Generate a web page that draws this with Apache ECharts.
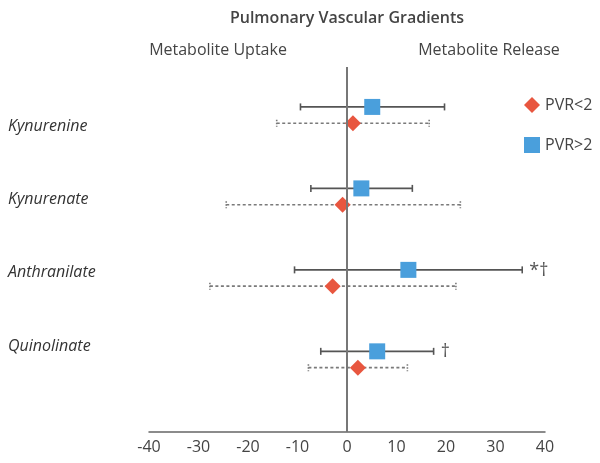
<!DOCTYPE html>
<html>
<head>
<meta charset="utf-8">
<script src="https://cdn.jsdelivr.net/npm/echarts@6/dist/echarts.min.js"></script>
<style>html,body{margin:0;padding:0;background:#fff}#c{width:600px;height:463px}</style>
</head>
<body>
<div id="c"></div>
<script>
const categories = ['Kynurenine', 'Kynurenate', 'Anthranilate', 'Quinolinate'];
const pvrHighMean = [5.1, 2.9, 12.4, 6.1];
const pvrHighLow = [-9.4, -7.3, -10.6, -5.3];
const pvrHighHigh = [19.7, 13.2, 35.4, 17.5];
const pvrLowMean = [1.2, -0.9, -2.9, 2.2];
const pvrLowLow = [-14.2, -24.4, -27.7, -7.8];
const pvrLowHigh = [16.6, 22.9, 22.0, 12.2];
const highNotes = ['', '', '*\u2020', '\u2020'];
const xMin = -40, xMax = 40, xStep = 10;

const FONT = '"Open Sans", sans-serif';
const HIGH_OFF = 0.49, LOW_OFF = 0.69;
const LABEL_START = 0.75, LABEL_STEP = 0.9;

const chart = echarts.init(document.getElementById('c'));

function errRender(dashed, notes) {
  return function (params, api) {
    const y = api.value(2);
    const lo = api.coord([api.value(0), y]);
    const hi = api.coord([api.value(1), y]);
    const cap = 3.5;
    const col = dashed ? '#7a7a7a' : '#555';
    const style = { stroke: col, lineWidth: 1.6, lineDash: dashed ? [3, 2.5] : null };
    const capStyle = { stroke: col, lineWidth: 1.6, lineDash: dashed ? [1.5, 1.5] : null };
    const children = [
      { type: 'line', shape: { x1: lo[0], y1: lo[1], x2: hi[0], y2: hi[1] }, style: style },
      { type: 'line', shape: { x1: lo[0], y1: lo[1] - cap, x2: lo[0], y2: lo[1] + cap }, style: capStyle },
      { type: 'line', shape: { x1: hi[0], y1: hi[1] - cap, x2: hi[0], y2: hi[1] + cap }, style: capStyle }
    ];
    const note = notes ? notes[params.dataIndex] : '';
    if (note) {
      children.push({
        type: 'text',
        style: { text: note, x: hi[0] + 7, y: hi[1] + 1, verticalAlign: 'middle', align: 'left',
                 fill: '#555', font: '18px ' + FONT }
      });
    }
    return { type: 'group', children: children };
  };
}

const highErr = categories.map((c, i) => [pvrHighLow[i], pvrHighHigh[i], i + HIGH_OFF]);
const lowErr = categories.map((c, i) => [pvrLowLow[i], pvrLowHigh[i], i + LOW_OFF]);
const highPts = categories.map((c, i) => [pvrHighMean[i], i + HIGH_OFF]);
const lowPts = categories.map((c, i) => [pvrLowMean[i], i + LOW_OFF]);

chart.setOption({
  animation: false,
  textStyle: { fontFamily: FONT },
  grid: { left: 149, right: 55, top: 67, bottom: 31 },
  xAxis: {
    type: 'value', min: xMin, max: xMax, interval: xStep, position: 'bottom',
    axisLine: { show: true, onZero: false, lineStyle: { color: '#666', width: 1.5 } },
    axisTick: { show: false },
    splitLine: { show: false },
    axisLabel: { fontSize: 16, color: '#444', margin: 7, fontFamily: FONT }
  },
  yAxis: {
    type: 'value', inverse: true, min: 0, max: 4.48, show: false
  },
  title: [
    { text: 'Pulmonary Vascular Gradients', left: 342, top: 5, textAlign: 'center',
      textStyle: { fontSize: 16, fontWeight: 600, color: '#444', fontFamily: FONT } },
    { text: 'Metabolite Uptake', left: 213, top: 37, textAlign: 'center',
      textStyle: { fontSize: 16, fontWeight: 'normal', color: '#444', fontFamily: FONT } },
    { text: 'Metabolite Release', left: 484, top: 37, textAlign: 'center',
      textStyle: { fontSize: 16, fontWeight: 'normal', color: '#444', fontFamily: FONT } }
  ],
  legend: {
    data: ['PVR<2', 'PVR>2'], orient: 'vertical', left: 519, top: 92,
    itemWidth: 16, itemHeight: 16, itemGap: 24,
    textStyle: { fontSize: 16, color: '#444', fontFamily: FONT }
  },
  series: [
    { type: 'custom', renderItem: errRender(true, null), data: lowErr, z: 1,
      encode: { x: [0, 1], y: 2 }, silent: true },
    { type: 'custom', renderItem: errRender(false, highNotes), data: highErr, z: 1,
      encode: { x: [0, 1], y: 2 }, silent: true },
    { name: 'PVR<2', type: 'scatter', symbol: 'diamond', symbolSize: 16, data: lowPts, z: 3,
      itemStyle: { color: '#e8563f', opacity: 1 },
      markLine: { silent: true, symbol: 'none', label: { show: false },
        lineStyle: { color: '#777', width: 2, type: 'solid' },
        data: [{ xAxis: 0 }] } },
    { name: 'PVR>2', type: 'scatter', symbol: 'rect', symbolSize: 16, data: highPts, z: 3,
      itemStyle: { color: '#4a9fdc', opacity: 1 } }
  ]
});

const graphics = categories.map((c, i) => {
  const py = chart.convertToPixel({ gridIndex: 0 }, [0, LABEL_START + i * LABEL_STEP])[1];
  return { type: 'text', left: 8, top: py - 10,
    style: { text: c, font: 'italic 16px ' + FONT, fill: '#333' } };
});
chart.setOption({ graphic: graphics });
</script>
</body>
</html>
